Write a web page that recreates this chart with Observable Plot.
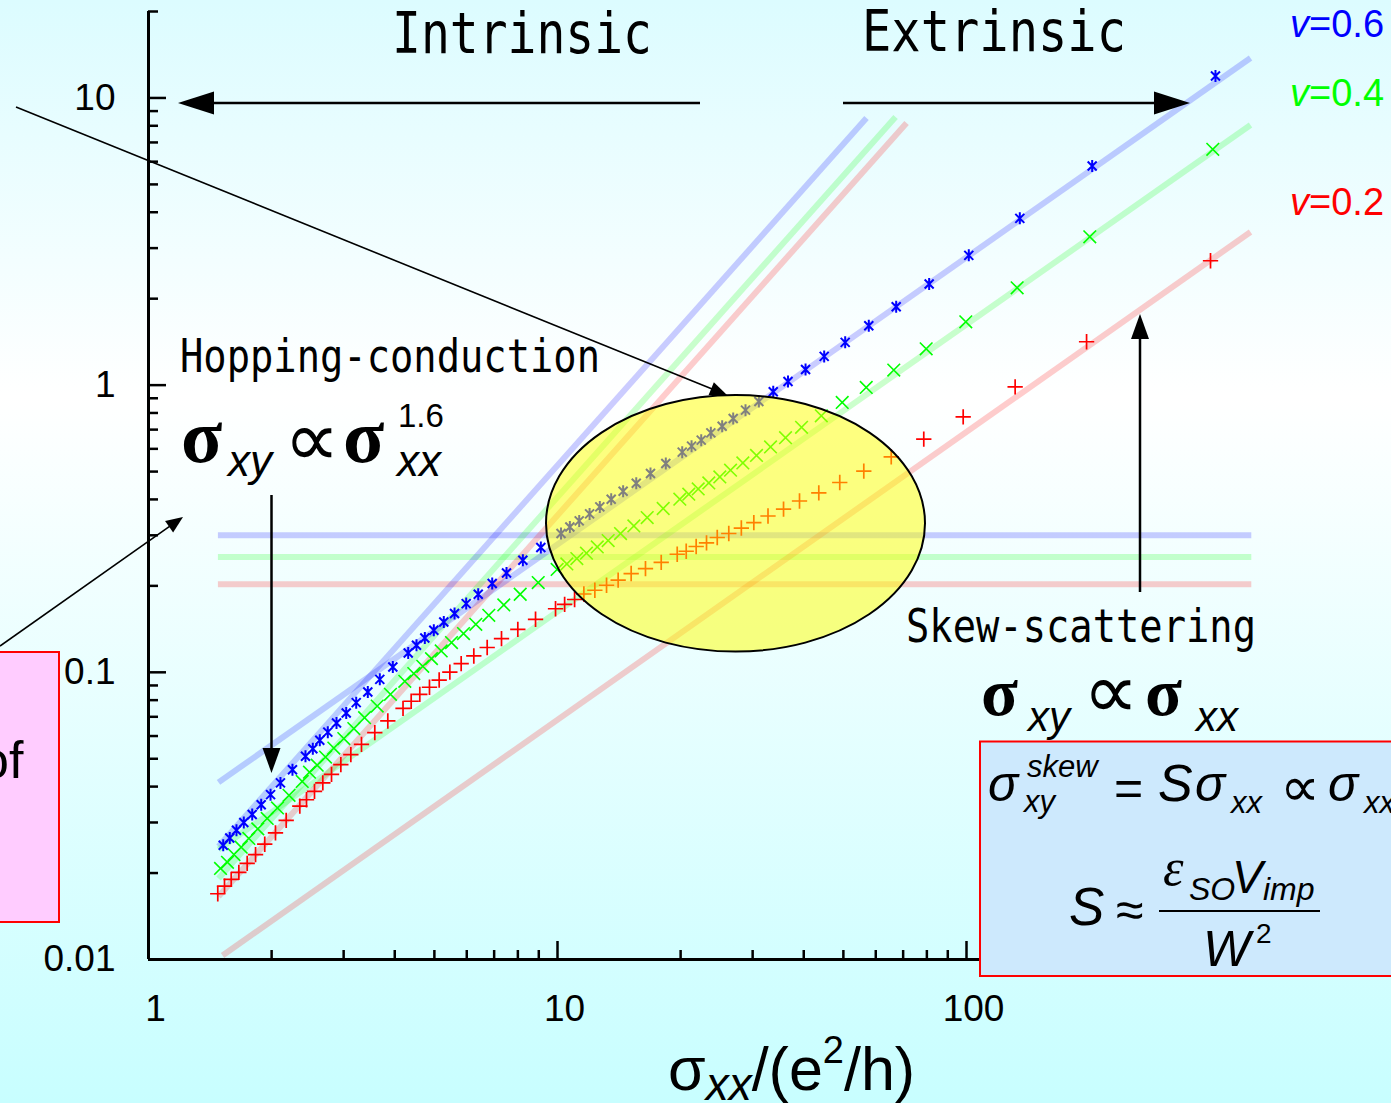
<!DOCTYPE html>
<html><head><meta charset="utf-8">
<script src="https://cdn.jsdelivr.net/npm/d3@7"></script>
<script src="https://cdn.jsdelivr.net/npm/@observablehq/plot@0.6"></script>
<style>
html,body{margin:0;padding:0;}
body{width:1391px;height:1103px;overflow:hidden;background:linear-gradient(to bottom,#dcfcff 0%,#ffffff 36%,#c8feff 100%);}
#chart{position:absolute;left:0;top:0;}
</style></head><body><div id="chart"></div>
<script>
// ---- data ----
const sxx06 = [1.523,1.580,1.641,1.710,1.793,1.886,1.988,2.102,2.249,2.420,2.522,2.623,2.744,2.882,3.044,3.220,3.437,3.677,3.957,4.315,4.521,4.738,4.984,5.272,5.601,5.981,6.400,6.924,7.505,8.228,9.104,10.20,10.72,11.30,11.98,12.69,13.53,14.47,15.58,16.88,18.40,20.18,21.27,22.46,23.71,25.27,26.89,28.82,31.07,33.69,36.61,40.41,44.88,50.51,57.69,67.31,81.04,101.3,135.0,202.9,406.2];
const sxy06 = [0.0250,0.0265,0.0282,0.0300,0.0320,0.0346,0.0375,0.0412,0.0458,0.0510,0.0542,0.0580,0.0619,0.0666,0.0722,0.0784,0.0854,0.0945,0.1043,0.1167,0.1242,0.1317,0.1401,0.1497,0.1602,0.1735,0.1870,0.2038,0.2218,0.2456,0.2720,0.3043,0.3208,0.3367,0.3561,0.3767,0.4007,0.4272,0.4555,0.4924,0.5336,0.5843,0.6131,0.6433,0.6820,0.7196,0.7656,0.8184,0.8776,0.9478,1.030,1.134,1.259,1.409,1.609,1.874,2.249,2.831,3.808,5.796,11.93];
const sxx04 = [1.500,1.560,1.618,1.685,1.759,1.850,1.951,2.067,2.206,2.376,2.475,2.585,2.709,2.839,3.003,3.177,3.375,3.624,3.905,4.233,4.453,4.684,4.919,5.196,5.506,5.891,6.314,6.792,7.391,8.106,8.971,9.98,10.54,11.15,11.77,12.51,13.30,14.26,15.37,16.57,18.13,19.91,20.94,22.08,23.44,24.94,26.49,28.39,30.66,33.18,36.10,39.51,44.16,49.67,56.86,66.40,79.69,99.6,133.0,200.2,400.1];
const sxy04 = [0.02075,0.0218,0.0232,0.0246,0.0264,0.0285,0.0310,0.0337,0.0373,0.0417,0.0449,0.0475,0.0507,0.0545,0.0588,0.0637,0.0695,0.0763,0.0838,0.0930,0.0990,0.1049,0.1116,0.1187,0.1269,0.1364,0.1470,0.1580,0.1716,0.1870,0.2054,0.2281,0.2385,0.2490,0.2598,0.2733,0.2876,0.3043,0.3234,0.3459,0.3719,0.4007,0.4171,0.4352,0.4566,0.4791,0.5055,0.5361,0.5690,0.6095,0.6563,0.7129,0.7817,0.8705,0.9817,1.128,1.338,1.662,2.183,3.286,6.627];
const sxx02 = [1.477,1.534,1.593,1.663,1.743,1.827,1.924,2.044,2.171,2.344,2.434,2.546,2.668,2.802,2.953,3.124,3.317,3.575,3.847,4.191,4.388,4.606,4.864,5.137,5.455,5.814,6.243,6.731,7.296,7.998,8.837,9.89,10.41,11.01,11.60,12.34,13.18,14.07,15.14,16.41,17.93,19.62,20.64,21.83,23.14,24.58,26.23,28.15,30.20,32.71,35.70,39.06,43.54,48.99,56.09,65.46,78.62,98.15,131.5,196.6,395.0];
const sxy02 = [0.01694,0.0180,0.0190,0.0201,0.0216,0.0232,0.0252,0.0276,0.0305,0.0342,0.0360,0.0385,0.0412,0.0441,0.0477,0.0517,0.0561,0.0617,0.0677,0.0749,0.0793,0.0838,0.0887,0.0940,0.1002,0.1072,0.1140,0.1220,0.1310,0.1412,0.1530,0.1665,0.1725,0.1793,0.1874,0.1931,0.2010,0.2093,0.2208,0.2298,0.2416,0.2577,0.2640,0.2742,0.2822,0.2947,0.3043,0.3180,0.3319,0.3502,0.3698,0.3950,0.4215,0.4581,0.5015,0.5626,0.6484,0.7755,0.9865,1.416,2.711];

// fitted guide lines (end points)
const intrX = [1.478, 497];
const intrY06 = [0.300, 0.300], intrY04 = [0.252, 0.252], intrY02 = [0.2025, 0.2025];
const hopX06 = [1.483, 56.95], hopY06 = [0.02476, 8.51];
const hopX04 = [1.483, 67.07], hopY04 = [0.01915, 8.59];
const hopX02 = [1.483, 71.36], hopY02 = [0.01658, 8.18];
const skewX06 = [1.483, 494.8], skewY06 = [0.04137, 13.78];
const skewX04 = [1.483, 494.8], skewY04 = [0.02416, 8.05];
const skewX02 = [1.517, 494.8], skewY02 = [0.01033, 3.413];

// ticks
const yMajor = [0.01, 0.1, 1, 10];
const yMajorLabels = ["0.01", "0.1", "1", "10"];
const yMinor = [0.02,0.03,0.04,0.05,0.06,0.07,0.08,0.09,0.2,0.3,0.4,0.5,0.6,0.7,0.8,0.9,2,3,4,5,6,7,8,9,20];
const xMajor = [1, 10, 100];
const xMajorLabels = ["1", "10", "100"];
const xMinor = [2,3,4,5,6,7,8,9,20,30,40,50,60,70,80,90,200,300,400,500,600,700,800,900];

const series = ["v=0.6", "v=0.4", "v=0.2"];
const colors = ["#0000ff", "#00ff00", "#ff0000"];

const pts = (xs, ys) => xs.map((x, i) => ({x, y: ys[i]})).filter(d => d.y !== undefined);

const guide = (xs, ys, c) => Plot.line(pts(xs, ys), {x: "x", y: "y", stroke: c, strokeWidth: 6, strokeOpacity: 0.2, strokeLinecap: "butt"});

// asterisk marker: vertical bar plus an X
const starSymbol = {
  draw(context, size) {
    const r = Math.sqrt(size / Math.PI), d = r * 0.75;
    context.moveTo(0, -r); context.lineTo(0, r);
    context.moveTo(-d, -d); context.lineTo(d, d);
    context.moveTo(-d, d); context.lineTo(d, -d);
  }
};

const plot = Plot.plot({
  width: 1391, height: 1103,
  marginLeft: 148, marginRight: 16, marginTop: 11, marginBottom: 144,
  style: {background: "transparent", fontFamily: "Liberation Sans, Arial, sans-serif", fontSize: "37px", overflow: "visible"},
  x: {type: "log", domain: [1, 1000]},
  y: {type: "log", domain: [0.01, 20]},
  marks: [
    guide(intrX, intrY06, colors[0]), guide(intrX, intrY04, colors[1]), guide(intrX, intrY02, colors[2]),
    guide(hopX06, hopY06, colors[0]), guide(hopX04, hopY04, colors[1]), guide(hopX02, hopY02, colors[2]),
    guide(skewX06, skewY06, colors[0]), guide(skewX04, skewY04, colors[1]), guide(skewX02, skewY02, colors[2]),
    Plot.dot(pts(sxx02, sxy02), {x: "x", y: "y", symbol: "plus", stroke: colors[2], r: 5, strokeWidth: 1.7}),
    Plot.dot(pts(sxx04, sxy04), {x: "x", y: "y", symbol: "times", stroke: colors[1], r: 5.8, strokeWidth: 1.6}),
    Plot.dot(pts(sxx06, sxy06), {x: "x", y: "y", symbol: starSymbol, stroke: colors[0], r: 6, strokeWidth: 2}),
    Plot.ruleX([1], {stroke: "black", strokeWidth: 3}),
    Plot.ruleY([0.01], {stroke: "black", strokeWidth: 3}),
    Plot.axisY({ticks: yMajor, tickSize: -18, strokeWidth: 2.5, tickFormat: () => "", label: null}),
    Plot.axisY({ticks: yMinor, tickSize: -10, strokeWidth: 2.5, tickFormat: () => "", label: null}),
    Plot.axisY({ticks: yMajor, tickSize: 0, tickPadding: 33, fontSize: 37, tickFormat: d => yMajorLabels[yMajor.indexOf(d)], label: null}),
    Plot.axisX({ticks: xMajor, tickSize: -18, strokeWidth: 2.5, tickFormat: () => "", label: null}),
    Plot.axisX({ticks: xMinor, tickSize: -9, strokeWidth: 2.5, tickFormat: () => "", label: null}),
    Plot.axisX({ticks: xMajor, tickSize: 0, tickPadding: 35, dx: 7, fontSize: 37, tickFormat: d => xMajorLabels[xMajor.indexOf(d)], label: null})
  ]
});
document.getElementById("chart").appendChild(plot);

// ---- annotations ----
const svg = d3.select(plot);
const ann = svg.append("g").attr("text-anchor", "start");
ann.append("ellipse").attr("cx", 735.5).attr("cy", 523.3).attr("rx", 189.5).attr("ry", 128.3)
  .attr("fill", "#ffff00").attr("fill-opacity", 0.5).attr("stroke", "#000").attr("stroke-width", 2);

function arrow(x1, y1, x2, y2, w, hl, hw) {
  const dx = x2 - x1, dy = y2 - y1, L = Math.hypot(dx, dy), ux = dx / L, uy = dy / L;
  const bx = x2 - ux * hl, by = y2 - uy * hl;
  ann.append("line").attr("x1", x1).attr("y1", y1).attr("x2", bx + ux).attr("y2", by + uy)
    .attr("stroke", "#000").attr("stroke-width", w);
  ann.append("path").attr("d", `M${x2},${y2}L${bx - uy * hw},${by + ux * hw}L${bx + uy * hw},${by - ux * hw}Z`).attr("fill", "#000");
}
arrow(700, 103, 178, 103, 2.5, 36, 11.5);
arrow(843, 103, 1190, 103, 2.5, 36, 11.5);
arrow(16, 107, 727, 395, 1.6, 17, 7);
arrow(0, 646, 183, 517, 1.6, 17, 7);
arrow(271.5, 495, 271.5, 773, 2.5, 25, 9);
arrow(1140, 592, 1140, 314, 2.5, 25, 9);

const mono = "DejaVu Sans Mono, monospace";
const sans = "Liberation Sans, Arial, sans-serif";
const serif = "Liberation Serif, Times New Roman, serif";
const g2 = ann.append("g").attr("font-family", sans).attr("fill", "#000").attr("text-anchor", "start");
g2.html(`
<text x="392" y="53" font-family="${mono}" font-size="57" textLength="260" lengthAdjust="spacingAndGlyphs">Intrinsic</text>
<text x="862" y="51" font-family="${mono}" font-size="57" textLength="264" lengthAdjust="spacingAndGlyphs">Extrinsic</text>
<text x="180" y="372" font-family="${mono}" font-size="47" textLength="420" lengthAdjust="spacingAndGlyphs">Hopping-conduction</text>
<text x="906" y="642" font-family="${mono}" font-size="47" textLength="350" lengthAdjust="spacingAndGlyphs">Skew-scattering</text>

<text x="181" y="462" font-family="${serif}" font-weight="bold" font-size="76">σ</text>
<text x="228" y="476" font-style="italic" font-size="44">xy</text>
<text x="284" y="466" font-family="DejaVu Sans, sans-serif" font-size="78">∝</text>
<text x="343" y="462" font-family="${serif}" font-weight="bold" font-size="76">σ</text>
<text x="398" y="427" font-size="33">1.6</text>
<text x="397" y="476" font-style="italic" font-size="44">xx</text>

<text x="981" y="715" font-family="${serif}" font-weight="bold" font-size="68">σ</text>
<text x="1028" y="731" font-style="italic" font-size="42">xy</text>
<text x="1083" y="718" font-family="DejaVu Sans, sans-serif" font-size="78">∝</text>
<text x="1145" y="715" font-family="${serif}" font-weight="bold" font-size="68">σ</text>
<text x="1196" y="731" font-style="italic" font-size="42">xx</text>

<text x="668" y="1090" font-size="61">σ<tspan font-style="italic" font-size="46" dy="10">xx</tspan><tspan dy="-10">/(e</tspan><tspan font-size="38" dy="-27">2</tspan><tspan dy="27">/h)</tspan></text>

<rect x="-5" y="652" width="64" height="270" fill="#ffccff" stroke="#ff0000" stroke-width="2"></rect>
<text x="-20" y="778" font-size="52">of</text>

<rect x="980" y="741.5" width="420" height="234.5" fill="#cde9fd" stroke="#ff0000" stroke-width="2"></rect>
<text x="988" y="801" font-style="italic" font-size="50">σ</text>
<text x="1027" y="777" font-style="italic" font-size="31">skew</text>
<text x="1024" y="812" font-style="italic" font-size="31">xy</text>
<text x="1114" y="805" font-size="50">=</text>
<text x="1158" y="801" font-style="italic" font-size="52">S</text>
<text x="1195" y="801" font-style="italic" font-size="50">σ</text>
<text x="1231" y="813" font-style="italic" font-size="31">xx</text>
<text x="1280" y="806" font-family="DejaVu Sans, sans-serif" font-size="56">∝</text>
<text x="1328" y="801" font-style="italic" font-size="50">σ</text>
<text x="1364" y="813" font-style="italic" font-size="31">xx</text>

<text x="1069" y="925" font-style="italic" font-size="53">S</text>
<text x="1116" y="927" font-size="50">≈</text>
<text x="1163" y="885" font-family="${serif}" font-style="italic" font-size="52">ε</text>
<text x="1189" y="900" font-style="italic" font-size="32">SO</text>
<text x="1232" y="893" font-style="italic" font-size="46">V</text>
<text x="1263" y="900" font-style="italic" font-size="32">imp</text>
<line x1="1159" x2="1320" y1="911" y2="911" stroke="#000" stroke-width="2"></line>
<text x="1203" y="966" font-style="italic" font-size="50">W</text>
<text x="1256" y="943" font-size="28">2</text>

<text x="1290" y="37" font-size="38" fill="${colors[0]}"><tspan font-style="italic">v</tspan>=0.6</text>
<text x="1290" y="106" font-size="38" fill="${colors[1]}"><tspan font-style="italic">v</tspan>=0.4</text>
<text x="1290" y="215" font-size="38" fill="${colors[2]}"><tspan font-style="italic">v</tspan>=0.2</text>
`);
</script>
</body></html>
